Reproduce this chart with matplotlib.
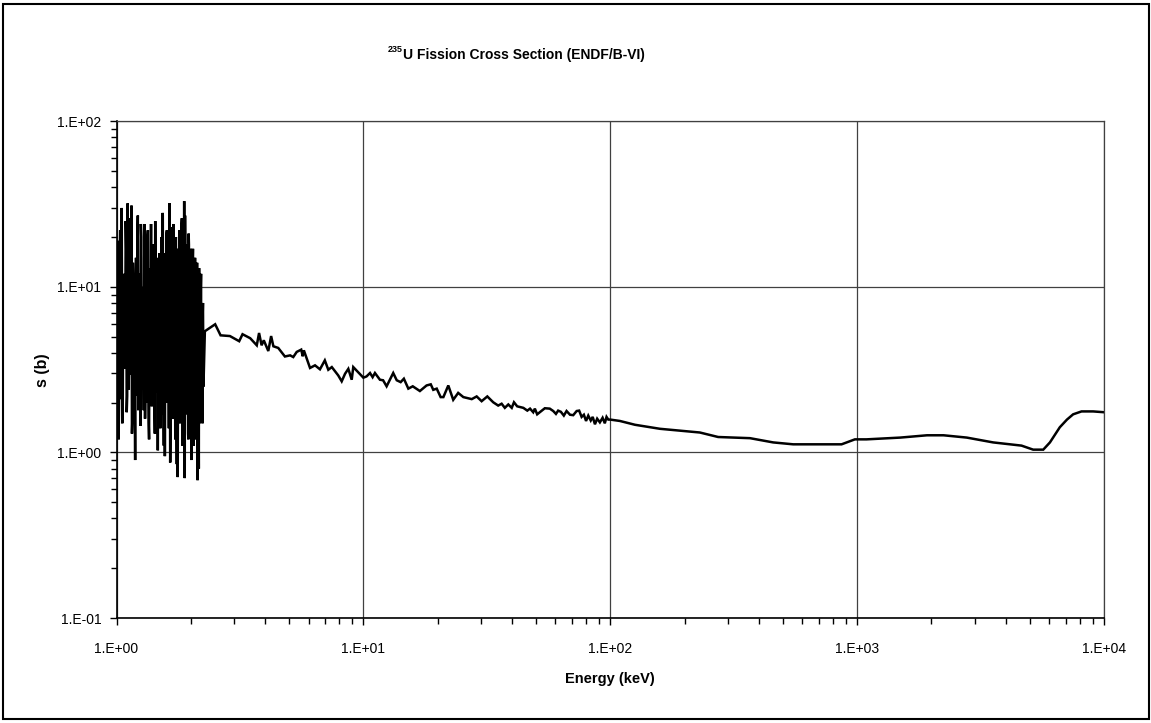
import numpy as np
import matplotlib
matplotlib.use("Agg")
import matplotlib.pyplot as plt
from matplotlib.ticker import FuncFormatter, LogLocator, NullFormatter
from matplotlib.patches import Rectangle

plt.rcParams['font.family'] = ['Liberation Sans', 'DejaVu Sans']

# Resolved-resonance region (keV, barns) - main grid
res_energy = [1.00, 1.01, 1.02, 1.03, 1.04, 1.05, 1.06, 1.07, 1.08, 1.09,
              1.10, 1.11, 1.12, 1.13, 1.14, 1.15, 1.16, 1.17, 1.18, 1.19,
              1.20, 1.21, 1.22, 1.23, 1.24, 1.25, 1.26, 1.27, 1.28, 1.29,
              1.30, 1.31, 1.32, 1.33, 1.34, 1.35, 1.36, 1.37, 1.38, 1.39,
              1.40, 1.41, 1.42, 1.43, 1.44, 1.45, 1.46, 1.47, 1.48, 1.49,
              1.50, 1.51, 1.52, 1.53, 1.54, 1.55, 1.56, 1.57, 1.58, 1.59,
              1.60, 1.61, 1.62, 1.63, 1.64, 1.65, 1.66, 1.67, 1.68, 1.69,
              1.70, 1.71, 1.72, 1.73, 1.74, 1.75, 1.76, 1.77, 1.78, 1.79,
              1.80, 1.81, 1.82, 1.83, 1.84, 1.85, 1.86, 1.87, 1.88, 1.89,
              1.90, 1.91, 1.92, 1.93, 1.94, 1.95, 1.96, 1.97, 1.98, 1.99,
              2.00, 2.01, 2.02, 2.03, 2.04, 2.05, 2.06, 2.07, 2.08, 2.09,
              2.10, 2.11, 2.12, 2.13, 2.14, 2.15, 2.16, 2.17, 2.18, 2.19,
              2.20, 2.21, 2.22, 2.23, 2.24, 2.25]
res_sigma = [6.0, 19, 1.2, 14, 2.1, 30, 1.9, 11, 3.2, 25,
             1.75, 32, 2.4, 18, 3.0, 31, 1.6, 9, 2.8, 0.9,
             15, 2.2, 27, 3.5, 12, 1.45, 20, 2.6, 8, 1.8,
             24, 3.1, 16, 2.0, 22, 1.5, 10, 2.7, 24, 1.9,
             13, 3.3, 18, 1.3, 7, 2.4, 12, 1.03, 15, 2.2,
             11, 3.0, 20, 1.7, 27, 2.5, 9, 0.95, 16, 2.0,
             22, 3.4, 14, 1.4, 32, 0.87, 19, 2.3, 11, 1.6,
             24, 2.9, 13, 1.2, 20, 2.1, 17, 0.71, 10, 2.6,
             22, 1.5, 15, 3.2, 26, 1.1, 9, 2.4, 33, 0.7,
             14, 1.9, 18, 2.7, 16, 1.3, 21, 2.2, 12, 1.6,
             17, 0.9, 11, 2.5, 17, 1.4, 13, 2.0, 15, 1.2,
             10, 2.8, 14, 0.68, 12, 1.8, 13, 1.5, 9, 2.3,
             12, 1.9, 8, 1.5, 8, 2.5]

# Resolved-resonance region - intermediate points
res_energy_mid = [1.005, 1.015, 1.025, 1.035, 1.045, 1.055, 1.065, 1.075, 1.085, 1.095,
                  1.105, 1.115, 1.125, 1.135, 1.145, 1.155, 1.165, 1.175, 1.185, 1.195,
                  1.205, 1.215, 1.225, 1.235, 1.245, 1.255, 1.265, 1.275, 1.285, 1.295,
                  1.305, 1.315, 1.325, 1.335, 1.345, 1.355, 1.365, 1.375, 1.385, 1.395,
                  1.405, 1.415, 1.425, 1.435, 1.445, 1.455, 1.465, 1.475, 1.485, 1.495,
                  1.505, 1.515, 1.525, 1.535, 1.545, 1.555, 1.565, 1.575, 1.585, 1.595,
                  1.605, 1.615, 1.625, 1.635, 1.645, 1.655, 1.665, 1.675, 1.685, 1.695,
                  1.705, 1.715, 1.725, 1.735, 1.745, 1.755, 1.765, 1.775, 1.785, 1.795,
                  1.805, 1.815, 1.825, 1.835, 1.845, 1.855, 1.865, 1.875, 1.885, 1.895,
                  1.905, 1.915, 1.925, 1.935, 1.945, 1.955, 1.965, 1.975, 1.985, 1.995,
                  2.005, 2.015, 2.025, 2.035, 2.045, 2.055, 2.065, 2.075, 2.085, 2.095,
                  2.105, 2.115, 2.125, 2.135, 2.145, 2.155, 2.165, 2.175, 2.185, 2.195,
                  2.205, 2.215, 2.225, 2.235, 2.245]
res_sigma_mid = [4, 8, 2.5, 22, 5, 1.5, 12, 3.5, 6, 17,
                 2.2, 9, 4.5, 26, 3, 1.3, 14, 6, 2.8, 11,
                 5, 19, 1.8, 7, 3.6, 24, 2.4, 10, 4.2, 15,
                 1.6, 8, 5.5, 20, 3, 1.2, 13, 6.5, 2.6, 18,
                 4, 9, 1.9, 25, 5, 2.3, 11, 3.8, 7, 16,
                 1.4, 10, 4.6, 28, 2.7, 1.1, 12, 5.8, 3.2, 21,
                 2, 8, 4.4, 17, 6, 1.5, 23, 3.4, 9, 14,
                 1.8, 11, 5.2, 19, 2.5, 0.85, 15, 4, 7.5, 20,
                 2.2, 12, 3.6, 24, 5.5, 1.3, 16, 4.8, 8, 27,
                 1.7, 10, 3, 15, 6.2, 1.2, 18, 4.4, 9, 13,
                 2, 7, 3.8, 14, 5, 1.1, 12, 3.2, 8, 11,
                 1.6, 9, 4.2, 10, 2.4, 0.8, 11, 3.5, 7, 10,
                 2, 6, 3.8, 7, 4.5]

# Unresolved / fast region (keV, barns)
fast_energy = [2.28, 2.51, 2.64, 2.88, 3.14, 3.24, 3.48, 3.70, 3.78, 3.87,
               3.95, 4.12, 4.23, 4.32, 4.52, 4.81, 5.05, 5.20, 5.37, 5.60,
               5.68, 5.74, 6.08, 6.37, 6.67, 6.98, 7.21, 7.45, 7.91, 8.17,
               8.43, 8.69, 8.97, 9.10, 10.0, 10.3, 10.64, 10.9, 11.14, 11.67,
               12.02, 12.42, 13.21, 13.65, 14.16, 14.59, 15.21, 15.85, 16.94, 18.03,
               18.75, 19.19, 19.82, 20.56, 21.09, 22.08, 23.12, 24.21, 25.41, 27.48,
               28.77, 30.13, 31.77, 33.57, 35.16, 36.31, 37.41, 38.64, 39.90, 40.74,
               41.98, 44.46, 46.13, 47.32, 48.75, 49.5, 50.58, 54.33, 56.89, 58.75,
               60.26, 61.52, 63.1, 64.86, 66.53, 68.71, 70.8, 73.11, 74.82, 76.56,
               78.2, 79.80, 81.47, 83.37, 84.9, 86.70, 88.51, 90.78, 93.11, 95.06,
               96.6, 98.2, 100, 109.4, 125.9, 158.9, 230.7, 273.5, 368.1, 457.1,
               550.8, 865, 979.5, 1091, 1496, 1919, 2239, 2780, 3556, 4634,
               5164, 5675, 6039, 6310, 6622, 7079, 7499, 8110, 9036, 10000]
fast_sigma = [5.4, 5.95, 5.1, 5.05, 4.7, 5.18, 4.9, 4.44, 5.27, 4.44,
              4.76, 4.10, 5.05, 4.38, 4.28, 3.80, 3.86, 3.77, 4.05, 4.18,
              3.81, 4.14, 3.24, 3.36, 3.18, 3.60, 3.16, 3.28, 2.92, 2.69,
              2.99, 3.20, 2.75, 3.28, 2.83, 2.88, 3.02, 2.85, 3.02, 2.75,
              2.73, 2.51, 3.02, 2.73, 2.66, 2.79, 2.43, 2.51, 2.35, 2.54,
              2.58, 2.39, 2.43, 2.16, 2.16, 2.54, 2.08, 2.29, 2.16, 2.10,
              2.18, 2.04, 2.18, 2.01, 1.92, 1.97, 1.86, 1.95, 1.86, 2.01,
              1.90, 1.86, 1.79, 1.84, 1.75, 1.84, 1.70, 1.85, 1.84, 1.78,
              1.71, 1.79, 1.76, 1.67, 1.78, 1.69, 1.68, 1.78, 1.79, 1.64,
              1.69, 1.55, 1.67, 1.56, 1.64, 1.48, 1.60, 1.52, 1.62, 1.50,
              1.64, 1.58, 1.58, 1.55, 1.47, 1.39, 1.32, 1.24, 1.22, 1.15,
              1.12, 1.12, 1.20, 1.20, 1.23, 1.27, 1.27, 1.23, 1.15, 1.10,
              1.04, 1.04, 1.15, 1.27, 1.42, 1.58, 1.70, 1.77, 1.77, 1.75]

title_main = "U Fission Cross Section (ENDF/B-VI)"
title_sup = "235"
x_label = "Energy (keV)"
y_label = "s (b)"

W, H = 1151, 723
fig = plt.figure(figsize=(W / 100, H / 100), dpi=100)
ax = fig.add_axes([116.5 / W, 1 - 618 / H, (1104 - 116.5) / W, (618 - 121.4) / H])

# merge resonance grids in energy order
res_pairs = sorted(zip(res_energy + res_energy_mid, res_sigma + res_sigma_mid))
energy = [p[0] for p in res_pairs] + fast_energy
sigma = [p[1] for p in res_pairs] + fast_sigma
ax.plot(energy, sigma, color='black', lw=1.8, solid_joinstyle='miter')

ax.set_xscale('log')
ax.set_yscale('log')
ax.set_xlim(1, 1e4)
ax.set_ylim(0.1, 100)

fmt = FuncFormatter(lambda v, p: "1.E%+03d" % int(round(np.log10(v))))
ax.xaxis.set_major_formatter(fmt)
ax.yaxis.set_major_formatter(fmt)
ax.xaxis.set_major_locator(LogLocator(base=10, numticks=10))
ax.yaxis.set_major_locator(LogLocator(base=10, numticks=10))
ax.xaxis.set_minor_locator(LogLocator(base=10, subs=np.arange(2, 10), numticks=20))
ax.yaxis.set_minor_locator(LogLocator(base=10, subs=np.arange(2, 10), numticks=20))
ax.xaxis.set_minor_formatter(NullFormatter())
ax.yaxis.set_minor_formatter(NullFormatter())

ax.tick_params(which='major', direction='out', length=5, width=1, labelsize=10, pad=6)
ax.tick_params(which='minor', direction='out', length=4, width=1)
ax.tick_params(axis='x', which='major', pad=12)

ax.grid(True, which='major', color='#404040', lw=0.9)
ax.set_axisbelow(True)
for s in ax.spines.values():
    s.set_linewidth(1.2)
ax.spines['top'].set_color('#404040')
ax.spines['right'].set_color('#404040')
ax.spines['top'].set_linewidth(0.9)
ax.spines['right'].set_linewidth(0.9)

fig.text(610 / W, 1 - 679 / H, x_label, fontsize=10.5, fontweight='bold',
         ha='center', va='center')
fig.text(42 / W, 1 - 370 / H, y_label, fontsize=11.5, fontweight='bold',
         ha='center', va='center', rotation=90)

fig.text(403 / W, 1 - 55 / H, title_main, fontsize=10, fontweight='bold',
         ha='left', va='center')
fig.text(403 / W, 1 - 49 / H, title_sup, fontsize=6.5, fontweight='bold',
         ha='right', va='center')

fig.add_artist(Rectangle((2.5 / W, 4 / H), (1149 - 2.5) / W, (719 - 4) / H,
                         transform=fig.transFigure, fill=False,
                         edgecolor='black', lw=1.5))

fig.savefig("out.png", dpi=100)
